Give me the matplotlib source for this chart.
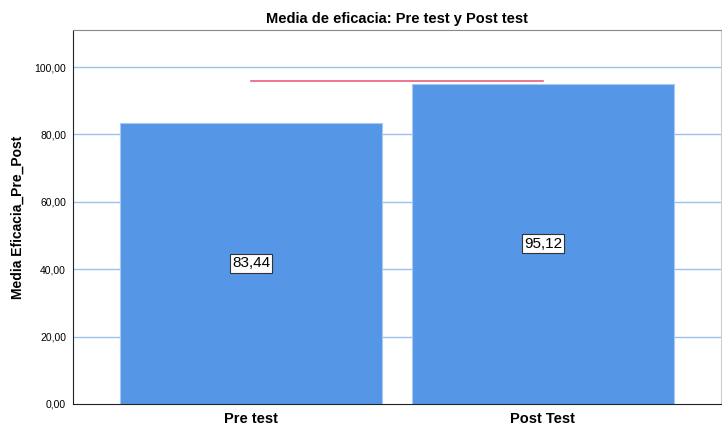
import matplotlib.pyplot as plt

plt.rcParams['font.family'] = ['Liberation Sans', 'DejaVu Sans']

# Datos
categorias = ['Pre test', 'Post Test']
medias = [83.44, 95.12]
etiquetas = ['83,44', '95,12']
linea_ref = 96.0
ticks_y = [0, 20, 40, 60, 80, 100]
ticks_y_txt = ['0,00', '20,00', '40,00', '60,00', '80,00', '100,00']

fig = plt.figure(figsize=(7.22, 4.28), dpi=100)
ax = fig.add_axes([0.1011, 0.0561, 0.8975, 0.8738])

x = list(range(len(categorias)))

# Rejilla detras de las barras
for t in ticks_y[1:]:
    ax.axhline(t, color='#9fc0ec', lw=1.0, zorder=0)

ax.bar(x, medias, width=0.9, color='#5596e6', edgecolor='#a9c8f2', lw=0.8, zorder=2)

# Linea roja entre los centros de las barras
ax.plot([x[0], x[-1]], [linea_ref, linea_ref], color='#e8607a', lw=1.2, zorder=3)

# Etiquetas de valor
for xi, m, txt in zip(x, medias, etiquetas):
    ax.text(xi, m / 2, txt, ha='center', va='center', fontsize=11, zorder=4,
            bbox=dict(boxstyle='square,pad=0.15', fc='white', ec='#333333', lw=0.8))

ax.set_xlim(-0.61, 1.61)
ax.set_ylim(0, 111)
ax.set_xticks(x)
ax.set_xticklabels(categorias, fontsize=10.5, fontweight='bold')
ax.set_yticks(ticks_y)
ax.set_yticklabels(ticks_y_txt, fontsize=7.5)
ax.tick_params(length=0, pad=5)
ax.tick_params(axis='x', pad=6)

ax.set_ylabel('Media Eficacia_Pre_Post', fontsize=10, fontweight='bold', labelpad=7)
ax.set_title('Media de eficacia: Pre test y Post test', fontsize=10.5, fontweight='bold', pad=5)

ax.spines['left'].set_color('#222222')
ax.spines['bottom'].set_color('#222222')
ax.spines['top'].set_color('#888888')
ax.spines['right'].set_color('#cccccc')

fig.savefig('out.png', dpi=100)
